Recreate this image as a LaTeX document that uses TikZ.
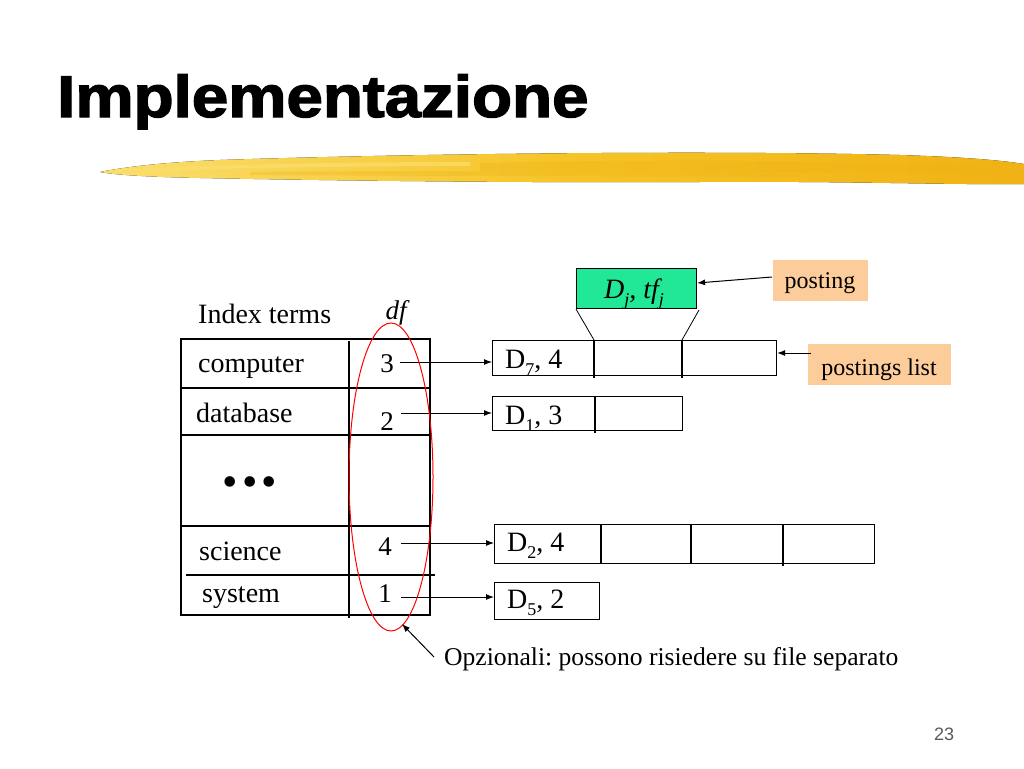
\documentclass[tikz,border=0pt]{standalone}
\usepackage{fontspec}
\setmainfont{Liberation Serif}
\newfontfamily\arialf{Liberation Sans}
\newfontfamily\heavyf[FakeBold=2.2]{Liberation Sans Bold}
\usetikzlibrary{arrows.meta,calc}
\definecolor{mintgreen}{RGB}{32,232,150}
\definecolor{peach}{RGB}{252,204,154}
\definecolor{goldA}{RGB}{250,222,110}
\definecolor{goldB}{RGB}{246,196,40}
\definecolor{goldC}{RGB}{240,178,20}
\newcommand{\lowsub}[1]{\raisebox{-7pt}{\fontsize{18}{18}\selectfont #1}}
\frenchspacing
\tikzset{
  txt/.style={anchor=base west, inner sep=0pt, font=\fontsize{28}{30}\selectfont},
  numtxt/.style={anchor=base, inner sep=0pt, font=\fontsize{27}{30}\selectfont},
  plist/.style={draw, line width=1.1pt, anchor=north west, inner sep=0pt},
  tag/.style={fill=peach, anchor=north west, inner sep=0pt},
  conn/.style={line width=1pt, -{Latex[length=8pt,width=6pt]}},
  grid/.style={line width=1.1pt}
}
\begin{document}
\begin{tikzpicture}[x=1pt,y=-1pt]
\useasboundingbox (0,0) rectangle (1024,768);
\fill[white] (0,0) rectangle (1024,768);

% title
\node[anchor=base west, inner sep=0pt, font=\heavyf\fontsize{59}{62}\selectfont] (title) at (57,117) {\scalebox{1.11}[1]{Implementazione}};

% brush stroke
\fill[left color=goldA, right color=goldC, middle color=goldB]
  (100,172) .. controls (130,166) and (170,162) .. (220,160)
  .. controls (400,154) and (700,150) .. (900,155)
  .. controls (960,157) and (1000,160) .. (1024,164)
  -- (1024,184) .. controls (950,185) and (850,181) .. (700,182)
  .. controls (500,183) and (300,180) .. (200,178)
  .. controls (150,177) and (115,175) .. (100,172) -- cycle;
\fill[goldC, opacity=0.35] (480,163) .. controls (650,159) and (850,160) .. (1020,168)
  -- (1020,176) .. controls (850,172) and (650,172) .. (480,171) -- cycle;
\fill[goldA, opacity=0.7] (130,169) .. controls (250,164) and (350,162) .. (470,162)
  -- (470,166) .. controls (350,166) and (250,168) .. (130,171) -- cycle;
\fill[goldC, opacity=0.3] (250,172) .. controls (400,170) and (600,172) .. (800,174)
  -- (800,177) .. controls (600,176) and (400,176) .. (250,175) -- cycle;

% table
\draw[grid] (181,339) rectangle (430,615);
\draw[grid] (349,341) -- (349,618);
\draw[grid] (181,388) -- (430,388);
\draw[grid] (181,435) -- (430,435);
\draw[grid] (181,526) -- (430,526);
\draw[grid] (186,575) -- (435,575);

\node[txt] (hdr) at (198,323) {Index terms};
\node[numtxt, font=\itshape\fontsize{27}{30}\selectfont] (dfh) at (396,319) {df};

\node[txt] (t1) at (198,372) {computer};
\node[txt] (t2) at (196,422) {database};
\node[anchor=center, inner sep=0pt, font=\fontsize{44}{44}\selectfont] (dots) at (250,487) {\textbullet\hspace{4pt}\textbullet\hspace{4pt}\textbullet};
\node[txt] (t3) at (199,560) {science};
\node[txt] (t4) at (202,602) {system};

\node[numtxt] (n1) at (387,372) {3};
\node[numtxt] (n2) at (387,430) {2};
\node[numtxt] (n3) at (385,555) {4};
\node[numtxt] (n4) at (385,602) {1};

\coordinate (s1) at (400,362);
\coordinate (s2) at (401,413);
\coordinate (s3) at (401,543);
\coordinate (s4) at (401,597);

% postings lists
\node[plist, minimum width=284pt, minimum height=35pt] (p1) at (492,340) {};
\draw[grid] (594,340) -- (594,378);
\draw[grid] (682,340) -- (682,378);
\node[txt] (d1) at (505,368) {D\lowsub{7}, 4};

\node[plist, minimum width=190pt, minimum height=34pt] (p2) at (492,396) {};
\draw[grid] (595,396) -- (595,433);
\node[txt] (d2) at (505,424) {D\lowsub{1}, 3};

\node[plist, minimum width=380pt, minimum height=39pt] (p3) at (494,524) {};
\draw[grid] (601,524) -- (601,563);
\draw[grid] (691,524) -- (691,563);
\draw[grid] (783,524) -- (783,566);
\node[txt] (d3) at (507,551) {D\lowsub{2}, 4};

\node[plist, minimum width=105pt, minimum height=37pt] (p4) at (494,582) {};
\node[txt] (d4) at (507,608) {D\lowsub{5}, 2};

\draw[conn] (s1) -- (s1 -| p1.west);
\draw[conn] (s2) -- (s2 -| p2.west);
\draw[conn] (s3) -- (s3 -| p3.west);
\draw[conn] (s4) -- (s4 -| p4.west);

% posting detail
\node[draw, line width=1.1pt, fill=mintgreen, anchor=north west, minimum width=120pt, minimum height=40pt, inner sep=0pt] (post) at (576,268) {};
\node[anchor=base west, inner sep=0pt, font=\itshape\fontsize{28}{30}\selectfont] (postl) at (604,298) {D\lowsub{\itshape j}, tf\lowsub{\itshape j}};
\draw[line width=0.8pt] (post.south west) -- (594,340);
\draw[line width=0.8pt] (699,310) -- (682,340);

\node[tag, minimum width=95pt, minimum height=41pt] (tagp) at (773,260) {};
\node[anchor=base, inner sep=0pt, font=\fontsize{24}{26}\selectfont] (tagpl) at (820,288) {posting};
\node[tag, minimum width=143pt, minimum height=41pt] (tagl) at (808,344) {};
\node[anchor=base, inner sep=0pt, font=\fontsize{24}{26}\selectfont] (tagll) at (879,375) {postings list};

\coordinate (a1) at (772,277);
\coordinate (a2) at (811,353);
\draw[conn] (a1) -- (post.east |- 0,283);
\draw[conn] (a2) -- (a2 -| p1.east);

% optional ellipse
\draw[red, line width=1pt] (391,477) ellipse [x radius=42, y radius=154];
\coordinate (o1) at (434,657);
\coordinate (o2) at (402,624);
\draw[conn] (o1) -- (o2);
\node[anchor=base west, inner sep=0pt, font=\fontsize{25.6}{27}\selectfont] (opt) at (444,665) {Opzionali: possono risiedere su file separato};

% page number
\node[anchor=base, inner sep=0pt, font=\arialf\fontsize{18}{20}\selectfont, text=black!65] (pg) at (944,740) {23};
\end{tikzpicture}
\end{document}
